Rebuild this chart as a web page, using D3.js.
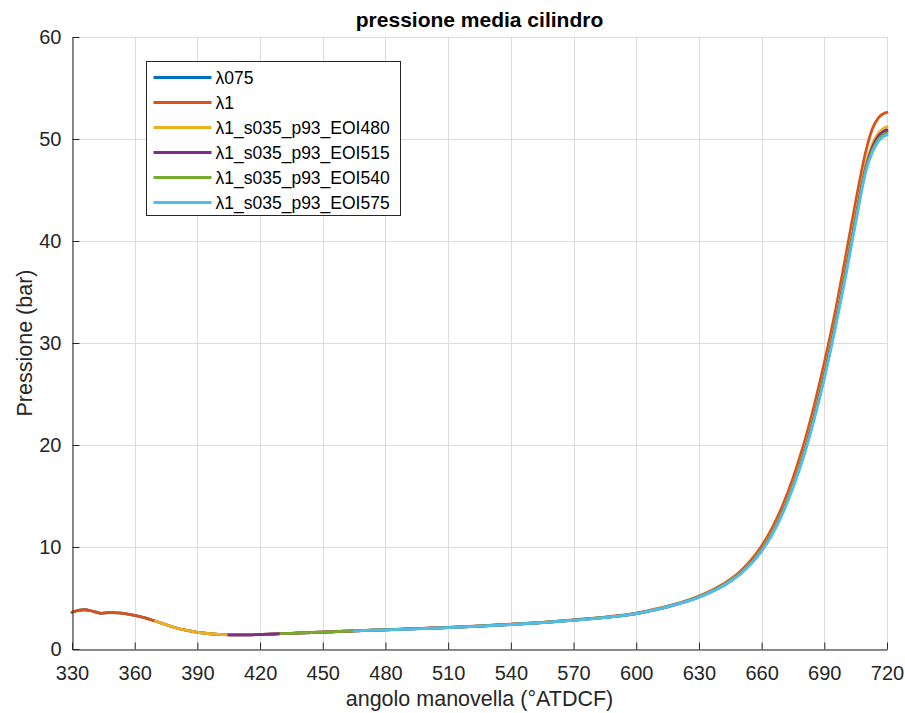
<!DOCTYPE html>
<html>
<head>
<meta charset="utf-8">
<script src="https://cdn.jsdelivr.net/npm/d3@7"></script>
<style>
  body { margin: 0; background: #fff; }
  svg { display: block; font-family: "Liberation Sans", Arial, Helvetica, sans-serif; }
</style>
</head>
<body>
<svg id="chart"></svg>
<script>
// crank angle (°ATDCF)
let angles = [330, 333, 336, 340, 344, 348, 352, 356, 360, 365, 370, 375, 380, 385, 390, 395, 400, 405,
  410, 420, 430, 440, 450, 465,
  480, 495, 510, 525, 540, 555, 570, 585,
  600, 605, 610, 615, 620, 625, 630, 635, 640, 645, 650, 655, 660, 665, 670, 675, 680, 685, 690,
  695, 700, 705, 710, 713, 716, 718, 720];

// shared low-pressure part (330..465)
let early = [3.6, 3.78, 3.85, 3.7, 3.5, 3.57, 3.55, 3.45, 3.3, 3.05, 2.72, 2.38, 2.06, 1.82, 1.64, 1.52, 1.44, 1.39,
  1.38, 1.42, 1.5, 1.58, 1.66, 1.78];

let lambda075 = early.concat(
  [1.88, 1.99, 2.11, 2.25, 2.41, 2.6, 2.83, 3.1],
  [3.48, 3.68, 3.9, 4.15, 4.44, 4.74, 5.11, 5.53, 6.04, 6.67, 7.45, 8.45, 9.73, 11.36, 13.45, 16.04, 19.09,
    22.74, 26.89, 31.61, 36.79, 42.31, 47.4, 49.3, 50.4, 50.6, 50.7]);

let lambda1 = early.concat(
  [1.89, 2.0, 2.12, 2.27, 2.43, 2.62, 2.86, 3.13],
  [3.52, 3.72, 3.95, 4.2, 4.48, 4.8, 5.18, 5.63, 6.17, 6.83, 7.65, 8.73, 10.1, 11.85, 14.05, 16.75, 19.95,
    23.75, 28.05, 32.85, 38.25, 43.85, 48.9, 51.0, 52.1, 52.45, 52.6]);

let eoi480 = [null, null, null, null, null, null, null, null, null, null].concat(
  early.slice(10),
  [1.88, 1.99, 2.11, 2.25, 2.41, 2.6, 2.83, 3.1],
  [3.48, 3.68, 3.9, 4.15, 4.44, 4.75, 5.12, 5.55, 6.06, 6.69, 7.47, 8.49, 9.78, 11.43, 13.53, 16.13, 19.2,
    22.87, 27.04, 31.78, 36.98, 42.52, 47.6, 49.5, 50.6, 51.0, 51.2]);

let eoi515 = [null, null, null, null, null, null, null, null, null, null, null, null, null, null, null, null, null].concat(
  early.slice(17),
  [1.88, 1.99, 2.1, 2.25, 2.4, 2.59, 2.83, 3.09],
  [3.47, 3.67, 3.89, 4.14, 4.43, 4.74, 5.1, 5.53, 6.03, 6.66, 7.43, 8.43, 9.7, 11.33, 13.41, 15.99, 19.03,
    22.67, 26.81, 31.53, 36.69, 42.21, 47.3, 49.2, 50.3, 50.7, 50.9]);

let eoi540 = [null, null, null, null, null, null, null, null, null, null, null, null, null, null, null, null, null, null, null, null].concat(
  early.slice(20),
  [1.88, 1.98, 2.1, 2.24, 2.4, 2.59, 2.82, 3.09],
  [3.47, 3.67, 3.89, 4.14, 4.43, 4.73, 5.09, 5.51, 6.02, 6.64, 7.41, 8.4, 9.65, 11.27, 13.33, 15.9, 18.92,
    22.54, 26.66, 31.37, 36.5, 42.0, 47.1, 48.9, 50.0, 50.4, 50.6]);

let eoi575 = [null, null, null, null, null, null, null, null, null, null, null, null, null, null, null, null, null, null, null, null, null, null, null].concat(
  early.slice(23),
  [1.88, 1.98, 2.1, 2.24, 2.4, 2.58, 2.82, 3.08],
  [3.46, 3.66, 3.88, 4.13, 4.42, 4.72, 5.08, 5.5, 6.0, 6.62, 7.38, 8.36, 9.6, 11.2, 13.25, 15.8, 18.8,
    22.4, 26.5, 31.2, 36.3, 41.8, 46.9, 48.7, 49.8, 50.2, 50.4]);

let seriesNames = ['λ075', 'λ1', 'λ1_s035_p93_EOI480', 'λ1_s035_p93_EOI515', 'λ1_s035_p93_EOI540', 'λ1_s035_p93_EOI575'];
let seriesValues = [lambda075, lambda1, eoi480, eoi515, eoi540, eoi575];
let seriesColors = ['#0072BD', '#D95319', '#EDB120', '#7E2F8E', '#77AC30', '#4DBEEE'];

let xTicks = [330, 360, 390, 420, 450, 480, 510, 540, 570, 600, 630, 660, 690, 720];
let yTicks = [0, 10, 20, 30, 40, 50, 60];

let width = 905;
let height = 713;
let margin = { top: 37, right: 18, bottom: 64, left: 72 };
let axisColor = '#262626';

let svg = d3.select('#chart').attr('width', width).attr('height', height);

let x = d3.scaleLinear().domain([330, 720]).range([margin.left, width - margin.right]);
let y = d3.scaleLinear().domain([0, 60]).range([height - margin.bottom, margin.top]);

// grid
let grid = svg.append('g').attr('stroke', '#dcdcdc').attr('stroke-width', 1);
grid.selectAll('line.v').data(xTicks).enter().append('line')
  .attr('x1', (d) => Math.round(x(d)) + 0.5).attr('x2', (d) => Math.round(x(d)) + 0.5)
  .attr('y1', y(0)).attr('y2', y(60));
grid.selectAll('line.h').data(yTicks).enter().append('line')
  .attr('y1', (d) => Math.round(y(d)) + 0.5).attr('y2', (d) => Math.round(y(d)) + 0.5)
  .attr('x1', x(330)).attr('x2', x(720));

// lines
let line = d3.line()
  .defined((d) => d[1] !== null)
  .x((d) => x(d[0]))
  .y((d) => y(d[1]))
  .curve(d3.curveMonotoneX);

let lineGp = svg.append('g').attr('fill', 'none');
seriesValues.forEach((vals, i) => {
  lineGp.append('path')
    .datum(angles.map((a, j) => [a, vals[j]]))
    .attr('d', line)
    .attr('stroke', seriesColors[i])
    .attr('stroke-width', 2.8)
    .attr('stroke-linejoin', 'round')
    .attr('stroke-linecap', 'round');
});

// axes
let xAxis = d3.axisBottom(x).tickValues(xTicks).tickSizeInner(-7).tickSizeOuter(0).tickPadding(16);
let yAxis = d3.axisLeft(y).tickValues(yTicks).tickSizeInner(-7).tickSizeOuter(0).tickPadding(11);

let gx = svg.append('g').attr('transform', `translate(0,${Math.round(y(0)) + 0.5})`).call(xAxis);
let gy = svg.append('g').attr('transform', `translate(${Math.round(x(330)) + 0.5},0)`).call(yAxis);

[gx, gy].forEach((g) => {
  g.select('.domain').attr('stroke', axisColor);
  g.selectAll('.tick line').attr('stroke', axisColor);
  g.selectAll('.tick text')
    .attr('fill', axisColor)
    .style('font-size', '20px')
    .style('font-family', '"Liberation Sans", Arial, sans-serif');
});

// title and labels
svg.append('text')
  .attr('x', (x(330) + x(720)) / 2).attr('y', 27)
  .attr('text-anchor', 'middle')
  .style('font-size', '21px').style('font-weight', 'bold')
  .attr('fill', '#000')
  .text('pressione media cilindro');

svg.append('text')
  .attr('x', (x(330) + x(720)) / 2).attr('y', 706)
  .attr('text-anchor', 'middle')
  .style('font-size', '21.5px')
  .attr('fill', axisColor)
  .text('angolo manovella (°ATDCF)');

svg.append('text')
  .attr('transform', 'translate(32,343) rotate(-90)')
  .attr('text-anchor', 'middle')
  .style('font-size', '21.5px')
  .attr('fill', axisColor)
  .text('Pressione (bar)');

// legend
let legend = svg.append('g').attr('transform', 'translate(146.5,61.5)');
legend.append('rect')
  .attr('width', 254).attr('height', 154)
  .attr('fill', '#fff').attr('stroke', '#262626').attr('stroke-width', 1);

let items = legend.selectAll('g.item').data(seriesNames).enter().append('g')
  .attr('transform', (d, i) => `translate(0,${16 + i * 25})`);
items.append('line')
  .attr('x1', 7).attr('x2', 65)
  .attr('stroke', (d, i) => seriesColors[i])
  .attr('stroke-width', 2.8);
items.append('text')
  .attr('x', 69).attr('y', 6.5)
  .style('font-size', '17.5px')
  .attr('fill', '#000')
  .text((d) => d);
</script>
</body>
</html>
